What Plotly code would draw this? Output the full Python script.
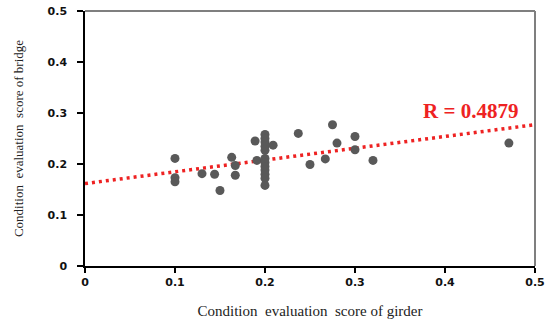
import plotly.graph_objects as go

# Condition evaluation scores: girder (x) vs whole bridge (y)
girder_score = [
    0.100, 0.100, 0.100, 0.130, 0.144, 0.150, 0.163, 0.167, 0.167,
    0.189, 0.191,
    0.200, 0.200, 0.200, 0.200, 0.200,
    0.200, 0.200, 0.200, 0.200, 0.200, 0.200, 0.200,
    0.209, 0.237, 0.250, 0.267, 0.275, 0.280, 0.300, 0.300, 0.320, 0.471,
]
bridge_score = [
    0.211, 0.173, 0.165, 0.181, 0.180, 0.148, 0.213, 0.197, 0.178,
    0.245, 0.207,
    0.258, 0.250, 0.243, 0.235, 0.227,
    0.211, 0.203, 0.195, 0.188, 0.180, 0.172, 0.158,
    0.237, 0.260, 0.199, 0.210, 0.277, 0.241, 0.254, 0.228, 0.207, 0.241,
]

# Linear trend line (intercept, slope) and its correlation label
trend_intercept = 0.1616
trend_slope = 0.231
trend_x = [0.0, 0.5]
r_label = "R = 0.4879"

x_ticks = [0, 0.1, 0.2, 0.3, 0.4, 0.5]
y_ticks = [0, 0.1, 0.2, 0.3, 0.4, 0.5]

fig = go.Figure()

fig.add_trace(go.Scatter(
    x=trend_x,
    y=[trend_intercept + trend_slope * v for v in trend_x],
    mode="lines",
    line=dict(color="#ee2222", width=3.5, dash="3px,4px"),
    hoverinfo="skip",
    showlegend=False,
))

fig.add_trace(go.Scatter(
    x=girder_score,
    y=bridge_score,
    mode="markers",
    marker=dict(symbol="circle", size=9, color="#595959", line=dict(width=0)),
    showlegend=False,
))

fig.add_annotation(
    x=0.428, y=0.303, xref="x", yref="y",
    text="<b>" + r_label + "</b>",
    showarrow=False,
    xanchor="center", yanchor="middle",
    font=dict(family="Liberation Serif", size=21, color="#ee2222"),
)

tick_font = dict(family="DejaVu Sans", size=11, color="#111111", weight="bold")

fig.update_xaxes(
    range=[0, 0.5],
    tickvals=x_ticks,
    ticktext=[f"{v:g}" for v in x_ticks],
    ticks="outside", ticklen=5, tickwidth=1.5, tickcolor="#000000",
    showline=True, linecolor="#000000", linewidth=2,
    showgrid=False, zeroline=False,
    tickfont=tick_font,
    automargin=False,
    title=dict(
        text="Condition  evaluation  score of girder",
        font=dict(family="Liberation Serif", size=15, color="#222222"),
        standoff=17,
    ),
)

fig.update_yaxes(
    range=[0, 0.5],
    tickvals=y_ticks,
    ticktext=[f"{v:g}" for v in y_ticks],
    ticks="outside", ticklen=6, tickwidth=1.5, tickcolor="#000000",
    ticklabelstandoff=8,
    showline=True, linecolor="#000000", linewidth=1.5,
    showgrid=False, zeroline=False,
    tickfont=tick_font,
    automargin=False,
    title=dict(
        text="Condition  evaluation  score of bridge",
        font=dict(family="Liberation Serif", size=13, color="#222222"),
        standoff=21,
    ),
)

# Frame: thin black top edge, grey right edge
fig.add_shape(type="line", xref="paper", yref="paper",
              x0=0, x1=1, y0=1, y1=1, line=dict(color="#000000", width=1.2))
fig.add_shape(type="line", xref="paper", yref="paper",
              x0=1, x1=1, y0=0, y1=1, line=dict(color="#7f7f7f", width=2))

fig.update_layout(
    width=552, height=324,
    margin=dict(l=85, r=17, t=11, b=58),
    paper_bgcolor="#ffffff",
    plot_bgcolor="#ffffff",
)

fig.write_html("out.html")
